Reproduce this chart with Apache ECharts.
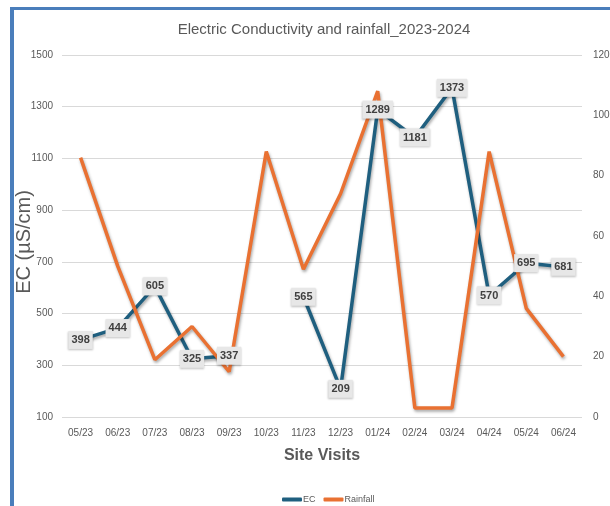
<!DOCTYPE html>
<html>
<head>
<meta charset="utf-8">
<script src="https://cdn.jsdelivr.net/npm/echarts@6/dist/echarts.min.js"></script>
<style>
html,body{margin:0;padding:0;background:#fff;}
#frame{position:absolute;left:10px;top:7px;width:620px;height:520px;border-left:4px solid #4a7ebb;border-top:3px solid #4a7ebb;box-sizing:border-box;}
#chart{position:absolute;left:0;top:0;width:610px;height:506px;}
</style>
</head>
<body>
<div id="frame"></div>
<div id="chart"></div>
<script>
const categories = ['05/23','06/23','07/23','08/23','09/23','10/23','11/23','12/23','01/24','02/24','03/24','04/24','05/24','06/24'];
const ecValues = [398, 444, 605, 325, 337, null, 565, 209, 1289, 1181, 1373, 570, 695, 681];
const rainfallValues = [86, 50, 19, 30, 15, 88, 49, 74, 108, 3, 3, 88, 36, 20];
const leftTicks = {min: 100, max: 1500, interval: 200};
const rightTicks = {min: 0, max: 120, interval: 20};

const chart = echarts.init(document.getElementById('chart'), null, {renderer: 'canvas'});
const font = 'Liberation Sans, Arial, sans-serif';
const shadow = {shadowBlur: 3, shadowColor: 'rgba(0,0,0,0.35)', shadowOffsetX: 1, shadowOffsetY: 2};
const plain = v => String(v);
chart.setOption({
  backgroundColor: 'transparent',
  animation: false,
  title: {
    text: 'Electric Conductivity and rainfall_2023-2024',
    left: 319, top: 17, textAlign: 'center',
    textStyle: {fontFamily: font, fontSize: 15, fontWeight: 'normal', color: '#595959'}
  },
  legend: {
    data: ['EC', 'Rainfall'],
    top: 490, left: 277,
    icon: 'roundRect', itemWidth: 20, itemHeight: 4, itemGap: 8,
    textStyle: {fontFamily: font, fontSize: 9, color: '#595959', padding: [0,0,0,-4]}
  },
  grid: {left: 62, right: 28, top: 55, bottom: 89, containLabel: false, outerBoundsMode: 'none'},
  xAxis: {
    type: 'category', data: categories, boundaryGap: true,
    name: 'Site Visits', nameLocation: 'middle', nameGap: 31,
    nameTextStyle: {fontFamily: font, fontSize: 16, fontWeight: 'bold', color: '#595959'},
    axisLine: {show: false}, axisTick: {show: false},
    axisLabel: {fontFamily: font, fontSize: 10, color: '#595959', margin: 11, interval: 0}
  },
  yAxis: [{
    type: 'value', min: leftTicks.min, max: leftTicks.max, interval: leftTicks.interval,
    name: 'EC (µS/cm)', nameLocation: 'middle', nameGap: 28, nameRotate: 90, nameMoveOverlap: false,
    nameTextStyle: {fontFamily: font, fontSize: 20, color: '#595959', padding: [0, 12, 0, 0]},
    axisLine: {show: false}, axisTick: {show: false},
    axisLabel: {fontFamily: font, fontSize: 10, color: '#595959', margin: 9, formatter: plain},
    splitLine: {lineStyle: {color: '#d9d9d9', width: 1}}
  }, {
    type: 'value', min: rightTicks.min, max: rightTicks.max, interval: rightTicks.interval,
    axisLine: {show: false}, axisTick: {show: false},
    axisLabel: {fontFamily: font, fontSize: 10, color: '#595959', margin: 11, formatter: plain},
    splitLine: {show: false}
  }],
  series: [{
    name: 'EC', type: 'line', data: ecValues, yAxisIndex: 0, z: 2,
    connectNulls: false, symbol: 'none',
    lineStyle: Object.assign({color: '#1f5f7f', width: 3.5}, shadow),
    itemStyle: {color: '#1f5f7f'}
  }, {
    name: 'Rainfall', type: 'line', data: rainfallValues, yAxisIndex: 1, z: 3,
    symbol: 'none',
    lineStyle: Object.assign({color: '#e97132', width: 3.5}, shadow),
    itemStyle: {color: '#e97132'}
  }, {
    name: 'EC labels', type: 'line', data: ecValues, yAxisIndex: 0, z: 5,
    symbol: 'circle', symbolSize: 1, silent: true,
    lineStyle: {opacity: 0}, itemStyle: {color: '#1f5f7f'},
    label: {
      show: true, position: 'inside',
      fontFamily: font, fontSize: 11, fontWeight: 'bold', color: '#404040',
      backgroundColor: '#e7e7e7', padding: [4, 3, 3, 3],
      shadowBlur: 2, shadowColor: 'rgba(0,0,0,0.25)', shadowOffsetY: 1
    }
  }]
});
</script>
</body>
</html>
